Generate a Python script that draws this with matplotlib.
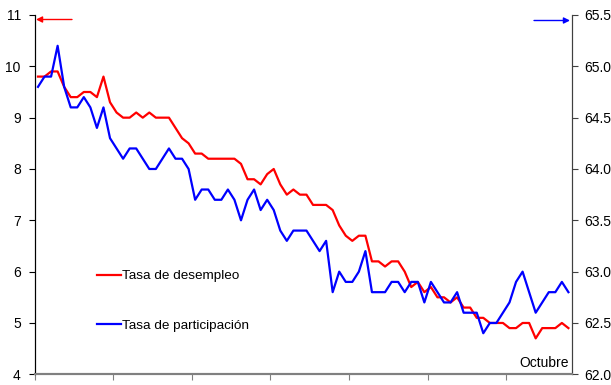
import numpy as np
import matplotlib
matplotlib.use("Agg")
import matplotlib.pyplot as plt

plt.rcParams['font.family'] = ['Liberation Sans', 'DejaVu Sans']

# Monthly series (January of the first year through October of the last)
desempleo = [
    9.8, 9.8, 9.9, 9.9, 9.6, 9.4, 9.4, 9.5, 9.5, 9.4, 9.8, 9.3,
    9.1, 9.0, 9.0, 9.1, 9.0, 9.1, 9.0, 9.0, 9.0, 8.8, 8.6, 8.5,
    8.3, 8.3, 8.2, 8.2, 8.2, 8.2, 8.2, 8.1, 7.8, 7.8, 7.7, 7.9,
    8.0, 7.7, 7.5, 7.6, 7.5, 7.5, 7.3, 7.3, 7.3, 7.2, 6.9, 6.7,
    6.6, 6.7, 6.7, 6.2, 6.2, 6.1, 6.2, 6.2, 6.0, 5.7, 5.8, 5.6,
    5.7, 5.5, 5.5, 5.4, 5.5, 5.3, 5.3, 5.1, 5.1, 5.0, 5.0, 5.0,
    4.9, 4.9, 5.0, 5.0, 4.7, 4.9, 4.9, 4.9, 5.0, 4.9,
]
participacion = [
    64.8, 64.9, 64.9, 65.2, 64.8, 64.6, 64.6, 64.7, 64.6, 64.4, 64.6, 64.3,
    64.2, 64.1, 64.2, 64.2, 64.1, 64.0, 64.0, 64.1, 64.2, 64.1, 64.1, 64.0,
    63.7, 63.8, 63.8, 63.7, 63.7, 63.8, 63.7, 63.5, 63.7, 63.8, 63.6, 63.7,
    63.6, 63.4, 63.3, 63.4, 63.4, 63.4, 63.3, 63.2, 63.3, 62.8, 63.0, 62.9,
    62.9, 63.0, 63.2, 62.8, 62.8, 62.8, 62.9, 62.9, 62.8, 62.9, 62.9, 62.7,
    62.9, 62.8, 62.7, 62.7, 62.8, 62.6, 62.6, 62.6, 62.4, 62.5, 62.5, 62.6,
    62.7, 62.9, 63.0, 62.8, 62.6, 62.7, 62.8, 62.8, 62.9, 62.8,
]
left_ticks = [4, 5, 6, 7, 8, 9, 10, 11]
right_ticks = [62.0, 62.5, 63.0, 63.5, 64.0, 64.5, 65.0, 65.5]
etiquetas = ["Tasa de desempleo", "Tasa de participación"]
ultimo_mes = "Octubre"

W, H = 611, 385
fig = plt.figure(figsize=(W / 100, H / 100), dpi=100)
x0, x1, ytop, ybot = 34.7, 571.7, 15.0, 374.3
ax = fig.add_axes([x0 / W, 1 - ybot / H, (x1 - x0) / W, (ybot - ytop) / H])
ax2 = ax.twinx()

x = np.arange(len(desempleo))
l1, = ax.plot(x, desempleo, color='#FF0000', lw=1.6, label=etiquetas[0])
l2, = ax2.plot(x, participacion, color='#0000FF', lw=1.6, label=etiquetas[1])

ax.set_xlim(-0.5, len(desempleo) - 0.5)
ax.set_ylim(left_ticks[0], left_ticks[-1])
ax2.set_ylim(right_ticks[0], right_ticks[-1])

ax.set_xticks(np.arange(-0.5, len(desempleo) - 0.5, 12))
ax.set_xticklabels([])
ax.tick_params(axis='x', direction='out', length=4, color='#808080')

ax.set_yticks(left_ticks)
ax.set_yticklabels([str(t) for t in left_ticks])
ax.tick_params(axis='y', direction='out', length=4, labelsize=10, pad=6, colors='black')
ax2.set_yticks(right_ticks)
ax2.set_yticklabels([f"{t:.1f}" for t in right_ticks])
ax2.tick_params(axis='y', direction='out', length=4, labelsize=10, pad=5, color='#404040')

for a in (ax, ax2):
    a.spines['top'].set_visible(False)
    a.spines['bottom'].set_color('#808080')
    a.spines['bottom'].set_linewidth(1.5)
    a.spines['left'].set_color('black')
    a.spines['right'].set_color('#404040')
    a.patch.set_visible(False)

leg = ax.legend(handles=[l1, l2], loc='upper left',
                bbox_to_anchor=(97 / W, 1 - 270 / H), bbox_transform=fig.transFigure,
                frameon=False, fontsize=9.7, handlelength=1.8, handletextpad=0.08,
                labelspacing=2.75, borderpad=0, borderaxespad=0)

ax.text(0.995, 0.012, ultimo_mes, transform=ax.transAxes, ha='right', va='bottom', fontsize=10)

# Arrows indicating which axis each series uses
ax.annotate('', xy=(36 / W, 1 - 19.5 / H), xytext=(72 / W, 1 - 19.5 / H),
            xycoords='figure fraction', textcoords='figure fraction',
            arrowprops=dict(arrowstyle='-|>', color='#FF0000', lw=1.0,
                            mutation_scale=9, shrinkA=0, shrinkB=0))
ax.annotate('', xy=(570 / W, 1 - 20.5 / H), xytext=(534 / W, 1 - 20.5 / H),
            xycoords='figure fraction', textcoords='figure fraction',
            arrowprops=dict(arrowstyle='-|>', color='#0000FF', lw=1.0,
                            mutation_scale=9, shrinkA=0, shrinkB=0))

fig.savefig('out.png', dpi=100)
